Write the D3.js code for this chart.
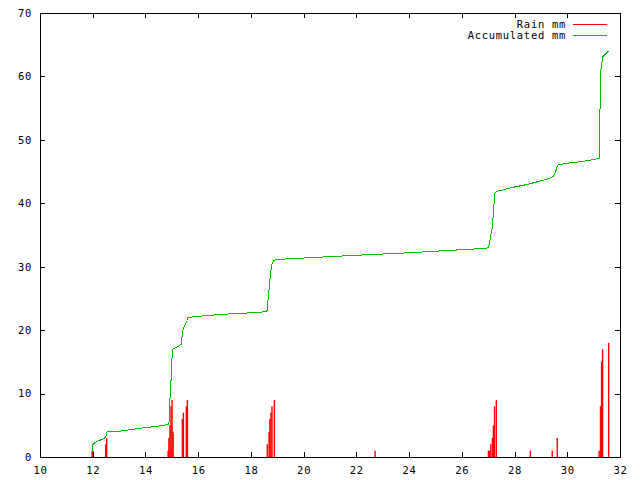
<!DOCTYPE html>
<html>
<head>
<meta charset="utf-8">
<script src="https://cdn.jsdelivr.net/npm/d3@7"></script>
<style>
  body { margin: 0; background: #fff; }
  text { font-family: "DejaVu Sans Mono", monospace; font-size: 10.5px; letter-spacing: 0.7px; fill: #000; }
</style>
</head>
<body>
<div id="chart"></div>
<script>
// rain impulses: day of month, mm
const rainDays = [11.98, 12.01, 12.49, 12.53, 14.86, 14.89, 14.93, 14.97, 15.01, 15.05,
  15.40, 15.44, 15.55, 15.59, 18.62, 18.69, 18.72, 18.76, 18.80, 18.89, 22.71,
  27.01, 27.05, 27.10, 27.16, 27.20, 27.24, 27.31, 28.60, 29.43, 29.62,
  31.21, 31.26, 31.30, 31.34, 31.57];
const rainMm = [1, 1, 2, 3, 1, 3, 5, 8, 9, 4,
  6, 7, 8, 9, 2, 4, 6, 7, 8, 9, 1,
  1, 1, 2, 3, 5, 8, 9, 1, 1, 3,
  1, 8, 15, 17, 18];

// accumulated rain: day of month, mm
const accDays = [11.98, 12.01, 12.10, 12.25, 12.40, 12.49, 12.55, 13.10, 13.73, 14.36, 14.84,
  14.87, 14.91, 14.93, 14.97, 15.01, 15.03, 15.22, 15.38, 15.39, 15.46, 15.57, 15.59,
  16.32, 17.33, 18.35, 18.61, 18.62, 18.66, 18.70, 18.74, 18.79, 18.85, 18.91, 19.23,
  21.50, 24.00, 26.90, 27.01, 27.05, 27.10, 27.16, 27.20, 27.24, 27.26, 27.33, 27.58, 27.80,
  28.40, 28.97, 29.22, 29.47, 29.52, 29.59, 29.62, 29.97, 30.49, 30.86, 31.22,
  31.24, 31.28, 31.35, 31.57];
const accMm = [0.8, 2.0, 2.3, 2.6, 2.85, 3.1, 4.0, 4.1, 4.5, 4.8, 5.1,
  5.2, 5.8, 9.2, 12.1, 15.8, 17.0, 17.4, 17.8, 19.5, 20.5, 21.3, 22.0,
  22.3, 22.6, 22.8, 23.0, 24.0, 25.0, 26.9, 28.7, 30.3, 30.9, 31.05, 31.2,
  31.7, 32.2, 32.9, 33.0, 33.7, 35.0, 36.3, 38.7, 41.0, 41.7, 41.9, 42.1, 42.4,
  42.9, 43.5, 43.8, 44.2, 44.7, 45.3, 46.0, 46.3, 46.55, 46.8, 47.1,
  54.5, 61.3, 63.1, 64.0];

const xTicks = [10, 12, 14, 16, 18, 20, 22, 24, 26, 28, 30, 32];
const yTicks = [0, 10, 20, 30, 40, 50, 60, 70];
const seriesNames = ['Rain mm', 'Accumulated mm'];
const seriesColors = ['#ff0000', '#00c000'];

const width = 640, height = 480;
const plotLeft = 40, plotRight = 620, plotTop = 13, plotBottom = 457;

const svg = d3.select('#chart').append('svg')
  .attr('width', width)
  .attr('height', height);

const x = d3.scaleLinear().domain([10, 32]).range([plotLeft, plotRight]);
const y = d3.scaleLinear().domain([0, 70]).range([plotBottom, plotTop]);

// rain impulses
svg.append('g')
  .selectAll('line')
  .data(rainDays.map((d, i) => ({ d: d, v: rainMm[i] })))
  .enter().append('line')
  .attr('x1', p => x(p.d))
  .attr('x2', p => x(p.d))
  .attr('y1', y(0))
  .attr('y2', p => y(p.v))
  .attr('stroke', seriesColors[0])
  .attr('stroke-width', 1.4);

// accumulated line
const line = d3.line()
  .x(p => x(p.d))
  .y(p => y(p.v));

svg.append('path')
  .datum(accDays.map((d, i) => ({ d: d, v: accMm[i] })))
  .attr('d', line)
  .attr('fill', 'none')
  .attr('stroke', seriesColors[1])
  .attr('stroke-width', 1)
  .attr('shape-rendering', 'crispEdges');

// frame with inward ticks on all four sides
const frame = svg.append('g').attr('shape-rendering', 'crispEdges');
frame.append('rect')
  .attr('x', plotLeft).attr('y', plotTop)
  .attr('width', plotRight - plotLeft).attr('height', plotBottom - plotTop)
  .attr('fill', 'none').attr('stroke', '#000');

const xAxisB = d3.axisBottom(x).tickValues(xTicks).tickSize(-5).tickPadding(10).tickFormat(d3.format('d'));
const xAxisT = d3.axisTop(x).tickValues(xTicks).tickSize(-5).tickFormat('');
const yAxisL = d3.axisLeft(y).tickValues(yTicks).tickSize(-5).tickPadding(8).tickFormat(d3.format('d'));
const yAxisR = d3.axisRight(y).tickValues(yTicks).tickSize(-5).tickFormat('');

function styleAxis(g) {
  g.select('.domain').remove();
  g.selectAll('.tick line').attr('stroke', '#000');
  g.selectAll('.tick text').attr('fill', '#000')
    .style('font-family', '"DejaVu Sans Mono", monospace').style('font-size', '10.5px');
}

frame.append('g').attr('transform', `translate(0,${plotBottom})`).call(xAxisB).call(styleAxis);
frame.append('g').attr('transform', `translate(0,${plotTop})`).call(xAxisT).call(styleAxis);
frame.append('g').attr('transform', `translate(${plotLeft},0)`).call(yAxisL).call(styleAxis);
frame.append('g').attr('transform', `translate(${plotRight},0)`).call(yAxisR).call(styleAxis);

// legend
const legend = svg.append('g');
seriesNames.forEach((name, i) => {
  const ly = 24 + i * 11;
  legend.append('text')
    .attr('x', 566).attr('y', ly).attr('dy', '0.35em')
    .attr('text-anchor', 'end')
    .text(name);
  legend.append('line')
    .attr('x1', 573).attr('x2', 607)
    .attr('y1', ly).attr('y2', ly)
    .attr('stroke', seriesColors[i])
    .attr('shape-rendering', 'crispEdges');
});
</script>
</body>
</html>
